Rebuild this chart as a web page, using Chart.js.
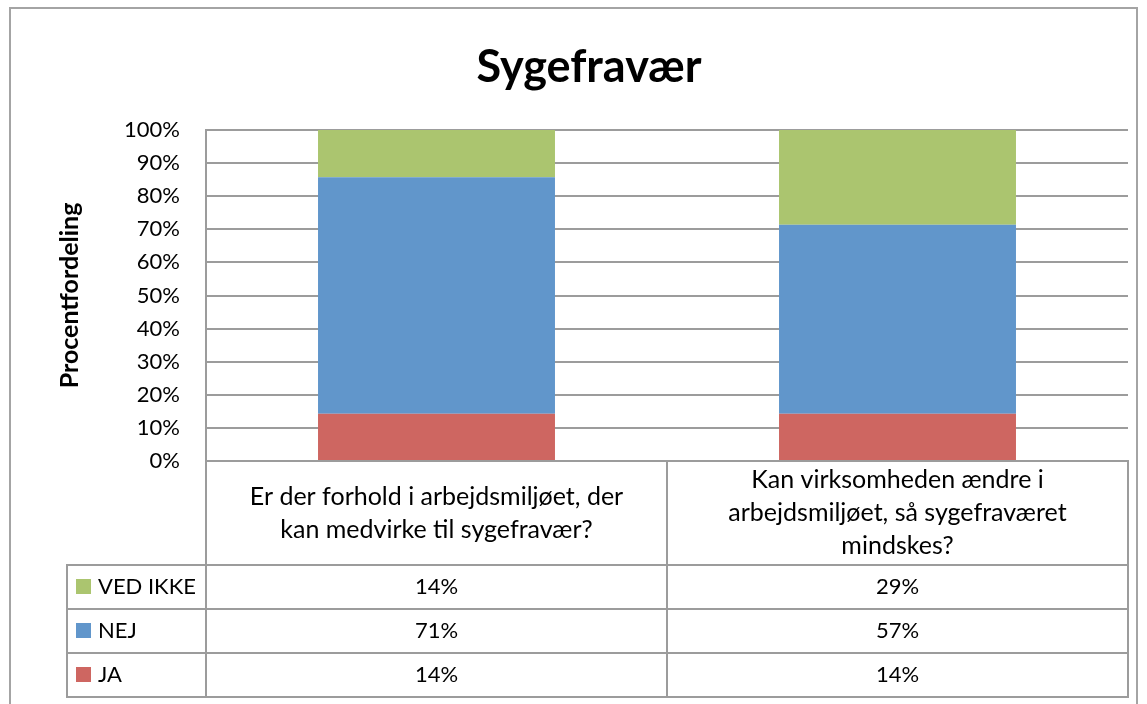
<!DOCTYPE html>
<html>
<head>
<meta charset="utf-8">
<script src="https://cdn.jsdelivr.net/npm/chart.js@4"></script>
<style>
  html, body { margin: 0; padding: 0; background: #fff; }
  #wrap { position: relative; width: 1147px; height: 704px; }
</style>
</head>
<body>
<div id="wrap"><canvas id="chart" width="1147" height="704"></canvas></div>
<script>
// ===== data =====
const categories = [
  ["Er der forhold i arbejdsmiljøet, der", "kan medvirke til sygefravær?"],
  ["Kan virksomheden ændre i", "arbejdsmiljøet, så sygefraværet", "mindskes?"]
];
const seriesNames = ["JA", "NEJ", "VED IKKE"];
const jaValues = [14.3, 14.3];
const nejValues = [71.4, 57.1];
const vedIkkeValues = [14.3, 28.6];
const yTickLabels = ["0%", "10%", "20%", "30%", "40%", "50%", "60%", "70%", "80%", "90%", "100%"];

const FONT = "Lato, 'Open Sans', sans-serif";
const colors = ["#CE6661", "#6196CB", "#ABC56F"];
const lineGray = "#9c9c9c";

// rows of the data table below the plot (top row = last series)
const catRowH = 104, valRowH = 44, legendLeft = 67;

const dataTable = {
  id: "dataTable",
  afterDraw(chart) {
    const { ctx, chartArea: a, scales: { x } } = chart;
    const sets = chart.data.datasets;
    const rowsTop = a.bottom + catRowH;
    const bottom = rowsTop + valRowH * sets.length;
    ctx.save();
    ctx.strokeStyle = lineGray;
    ctx.lineWidth = 2;
    // horizontal lines
    ctx.beginPath();
    for (let i = 0; i <= sets.length; i++) {
      const y = rowsTop + i * valRowH;
      ctx.moveTo(legendLeft, y); ctx.lineTo(a.right + 1, y);
    }
    // vertical lines
    ctx.moveTo(a.left, a.bottom); ctx.lineTo(a.left, bottom + 1);
    ctx.moveTo(legendLeft, rowsTop - 1); ctx.lineTo(legendLeft, bottom + 1);
    ctx.moveTo(a.right, a.bottom - 1); ctx.lineTo(a.right, bottom + 1);
    const step = (a.right - a.left) / categories.length;
    for (let i = 1; i < categories.length; i++) {
      const xx = Math.round(a.left + i * step);
      ctx.moveTo(xx, a.bottom); ctx.lineTo(xx, bottom);
    }
    ctx.stroke();

    // category labels
    ctx.fillStyle = "#000";
    ctx.textAlign = "center";
    ctx.textBaseline = "middle";
    ctx.font = "25px " + FONT;
    const lh = 33;
    categories.forEach((lines, i) => {
      const cx = x.getPixelForTick(i);
      const cy = a.bottom + catRowH / 2;
      lines.forEach((t, j) => {
        ctx.fillText(t, cx, cy + (j - (lines.length - 1) / 2) * lh);
      });
    });

    // value rows, legend keys
    ctx.font = "22px " + FONT;
    const order = sets.map((d, i) => i).reverse();
    order.forEach((di, r) => {
      const ds = sets[di];
      const cy = rowsTop + r * valRowH + valRowH / 2;
      ctx.fillStyle = ds.backgroundColor;
      ctx.fillRect(legendLeft + 9, cy - 8, 15, 15);
      ctx.fillStyle = "#000";
      ctx.textAlign = "left";
      ctx.fillText(ds.label, legendLeft + 31, cy);
      ctx.textAlign = "center";
      ds.data.forEach((v, i) => {
        ctx.fillText(Math.round(v) + "%", x.getPixelForTick(i), cy);
      });
    });

    // outer chart border
    ctx.strokeStyle = "#a4a4a4";
    ctx.lineWidth = 2;
    ctx.strokeRect(10, 8, 1127, 720);
    ctx.restore();
  }
};

new Chart(document.getElementById("chart"), {
  type: "bar",
  data: {
    labels: categories,
    datasets: [
      { label: seriesNames[0], data: jaValues, backgroundColor: colors[0] },
      { label: seriesNames[1], data: nejValues, backgroundColor: colors[1] },
      { label: seriesNames[2], data: vedIkkeValues, backgroundColor: colors[2] }
    ]
  },
  options: {
    responsive: false,
    animation: false,
    layout: { padding: { left: 50, right: 19, top: 0, bottom: 243 } },
    datasets: { bar: { categoryPercentage: 1, barPercentage: 0.514 } },
    plugins: {
      legend: { display: false },
      tooltip: { enabled: false },
      title: {
        display: true,
        text: "Sygefravær",
        color: "#000",
        font: { family: FONT, size: 45, weight: "bold" },
        padding: { top: 40, bottom: 36 }
      }
    },
    scales: {
      x: { display: false, stacked: true },
      y: {
        stacked: true,
        min: 0,
        max: 100,
        afterFit: (s) => { s.width = 156; },
        ticks: {
          stepSize: 10,
          padding: 26,
          color: "#000",
          font: { family: FONT, size: 22 },
          callback: (v) => yTickLabels[Math.round(v / 10)]
        },
        grid: { color: lineGray, lineWidth: 2, drawTicks: false },
        border: { color: lineGray, width: 2 },
        title: {
          display: true,
          text: "Procentfordeling",
          color: "#000",
          font: { family: FONT, size: 25, weight: "bold" },
          padding: { top: 5, bottom: 0 }
        }
      }
    }
  },
  plugins: [dataTable]
});
</script>
</body>
</html>
